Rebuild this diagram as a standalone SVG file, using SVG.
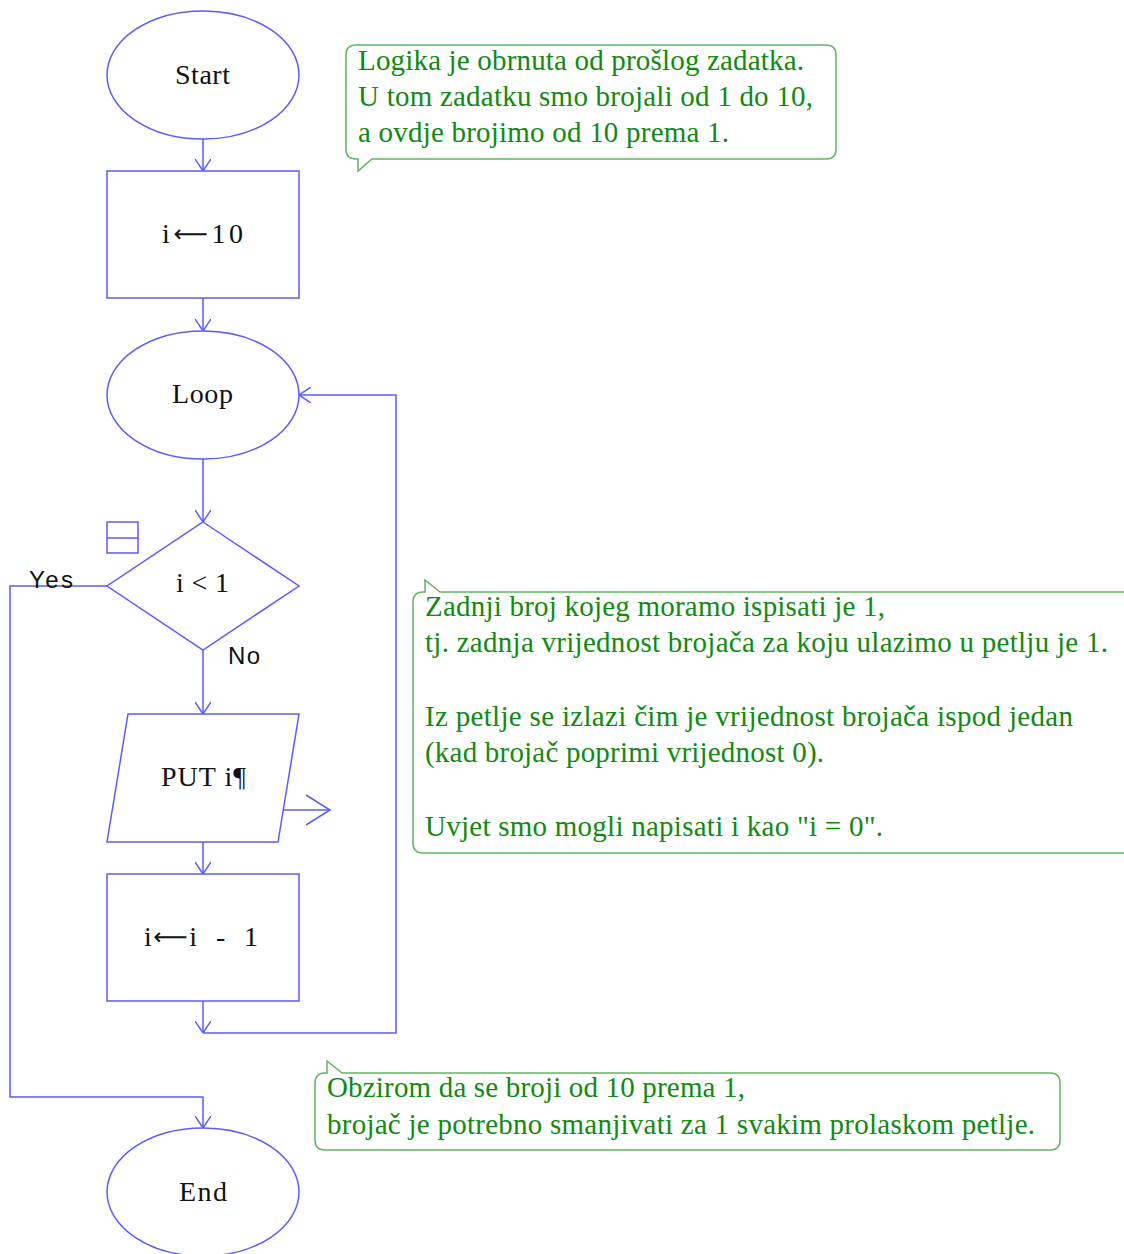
<svg xmlns="http://www.w3.org/2000/svg" width="1124" height="1254" viewBox="0 0 1124 1254">
  <style>
    .shape { fill: #ffffff; stroke: #5b5bff; stroke-width: 1.5; }
    .wire { fill: none; stroke: #5b5bff; stroke-width: 1.5; }
    .label { font-family: "Liberation Serif", serif; font-size: 28px; fill: #111111; }
    .arrow { font-family: "DejaVu Sans", sans-serif; font-size: 24px; }
    .tag { font-family: "Liberation Sans", Arial, sans-serif; font-size: 24px; fill: #111111; }
    .note { fill: #ffffff; stroke: #5fb65f; stroke-width: 1.5; }
    .notetext { font-family: "Liberation Serif", serif; font-size: 29px; fill: #108a10; }
  </style>
  <defs>
    <marker id="chev" viewBox="0 0 12 16" refX="12" refY="8" markerWidth="12" markerHeight="16" markerUnits="userSpaceOnUse" orient="auto">
      <path d="M0,0 L12,8 L0,16" fill="none" stroke="#5b5bff" stroke-width="1.5"/>
    </marker>
  </defs>

  <!-- connectors -->
  <g id="connectors">
    <line class="wire" x1="203" y1="139" x2="203" y2="171" marker-end="url(#chev)"/>
    <line class="wire" x1="203" y1="298" x2="203" y2="331" marker-end="url(#chev)"/>
    <line class="wire" x1="203" y1="459" x2="203" y2="522" marker-end="url(#chev)"/>
    <line class="wire" x1="203" y1="650" x2="203" y2="714" marker-end="url(#chev)"/>
    <line class="wire" x1="203" y1="842" x2="203" y2="874" marker-end="url(#chev)"/>
    <line class="wire" x1="203" y1="1001" x2="203" y2="1033" marker-end="url(#chev)"/>
    <polyline class="wire" points="203,1033 396,1033 396,395 299,395" marker-end="url(#chev)"/>
    <polyline class="wire" points="107,586 10,586 10,1097 203,1097 203,1128" marker-end="url(#chev)"/>
    <line class="wire" x1="282" y1="810" x2="330" y2="810"/>
    <polyline class="wire" points="306,795 330,810 306,825"/>
    <text class="tag" x="29" y="588" textLength="44">Yes</text>
    <text class="tag" x="228" y="664" textLength="32">No</text>
  </g>

  <g id="start">
    <ellipse class="shape" cx="203" cy="75" rx="96" ry="64"/>
    <text class="label" x="175" y="84" textLength="55">Start</text>
  </g>

  <g id="init">
    <rect class="shape" x="107" y="171" width="192" height="127"/>
    <text class="label" x="162" y="243" textLength="81">i<tspan class="arrow" dy="-1">⟵</tspan><tspan dy="1">10</tspan></text>
  </g>

  <g id="loop">
    <ellipse class="shape" cx="203" cy="395" rx="96" ry="64"/>
    <text class="label" x="172" y="403" textLength="61">Loop</text>
  </g>

  <g id="test">
    <rect class="shape" x="107" y="522" width="31" height="31"/>
    <line class="wire" x1="107" y1="538" x2="138" y2="538"/>
    <polygon class="shape" points="203,522 299,586 203,650 107,586"/>
    <text class="label" x="176" y="592" textLength="53">i &lt; 1</text>
  </g>

  <g id="output">
    <polygon class="shape" points="128,714 299,714 278,842 107,842"/>
    <text class="label" x="161" y="786" textLength="85">PUT i¶</text>
  </g>

  <g id="decrement">
    <rect class="shape" x="107" y="874" width="192" height="127"/>
    <text class="label" x="144" y="946" textLength="114" xml:space="preserve">i<tspan class="arrow" dy="-1">⟵</tspan><tspan dy="1">i  -  1</tspan></text>
  </g>

  <g id="end">
    <ellipse class="shape" cx="203" cy="1192" rx="96" ry="64"/>
    <text class="label" x="179" y="1201" textLength="48">End</text>
  </g>

  <!-- comment callouts -->
  <g id="note1">
    <path class="note" d="M356,45 H826 Q836,45 836,55 V149 Q836,159 826,159 H372 L358,171 L358,159 H356 Q346,159 346,149 V55 Q346,45 356,45 Z"/>
    <text class="notetext" x="358" y="70" textLength="446">Logika je obrnuta od prošlog zadatka.</text>
    <text class="notetext" x="358" y="106" textLength="455">U tom zadatku smo brojali od 1 do 10,</text>
    <text class="notetext" x="358" y="142" textLength="371">a ovdje brojimo od 10 prema 1.</text>
  </g>

  <g id="note2">
    <path class="note" d="M423,592 H425 V580 L440,592 H1130 V853 H423 Q413,853 413,843 V602 Q413,592 423,592 Z"/>
    <text class="notetext" x="425" y="616" textLength="460">Zadnji broj kojeg moramo ispisati je 1,</text>
    <text class="notetext" x="425" y="652" textLength="683">tj. zadnja vrijednost brojača za koju ulazimo u petlju je 1.</text>
    <text class="notetext" x="425" y="726" textLength="648">Iz petlje se izlazi čim je vrijednost brojača ispod jedan</text>
    <text class="notetext" x="425" y="762" textLength="399">(kad brojač poprimi vrijednost 0).</text>
    <text class="notetext" x="425" y="836" textLength="458">Uvjet smo mogli napisati i kao "i = 0".</text>
  </g>

  <g id="note3">
    <path class="note" d="M325,1073 H327 V1061 L342,1073 H1050 Q1060,1073 1060,1083 V1140 Q1060,1150 1050,1150 H325 Q315,1150 315,1140 V1083 Q315,1073 325,1073 Z"/>
    <text class="notetext" x="327" y="1097" textLength="418">Obzirom da se broji od 10 prema 1,</text>
    <text class="notetext" x="327" y="1134" textLength="708">brojač je potrebno smanjivati za 1 svakim prolaskom petlje.</text>
  </g>
</svg>
